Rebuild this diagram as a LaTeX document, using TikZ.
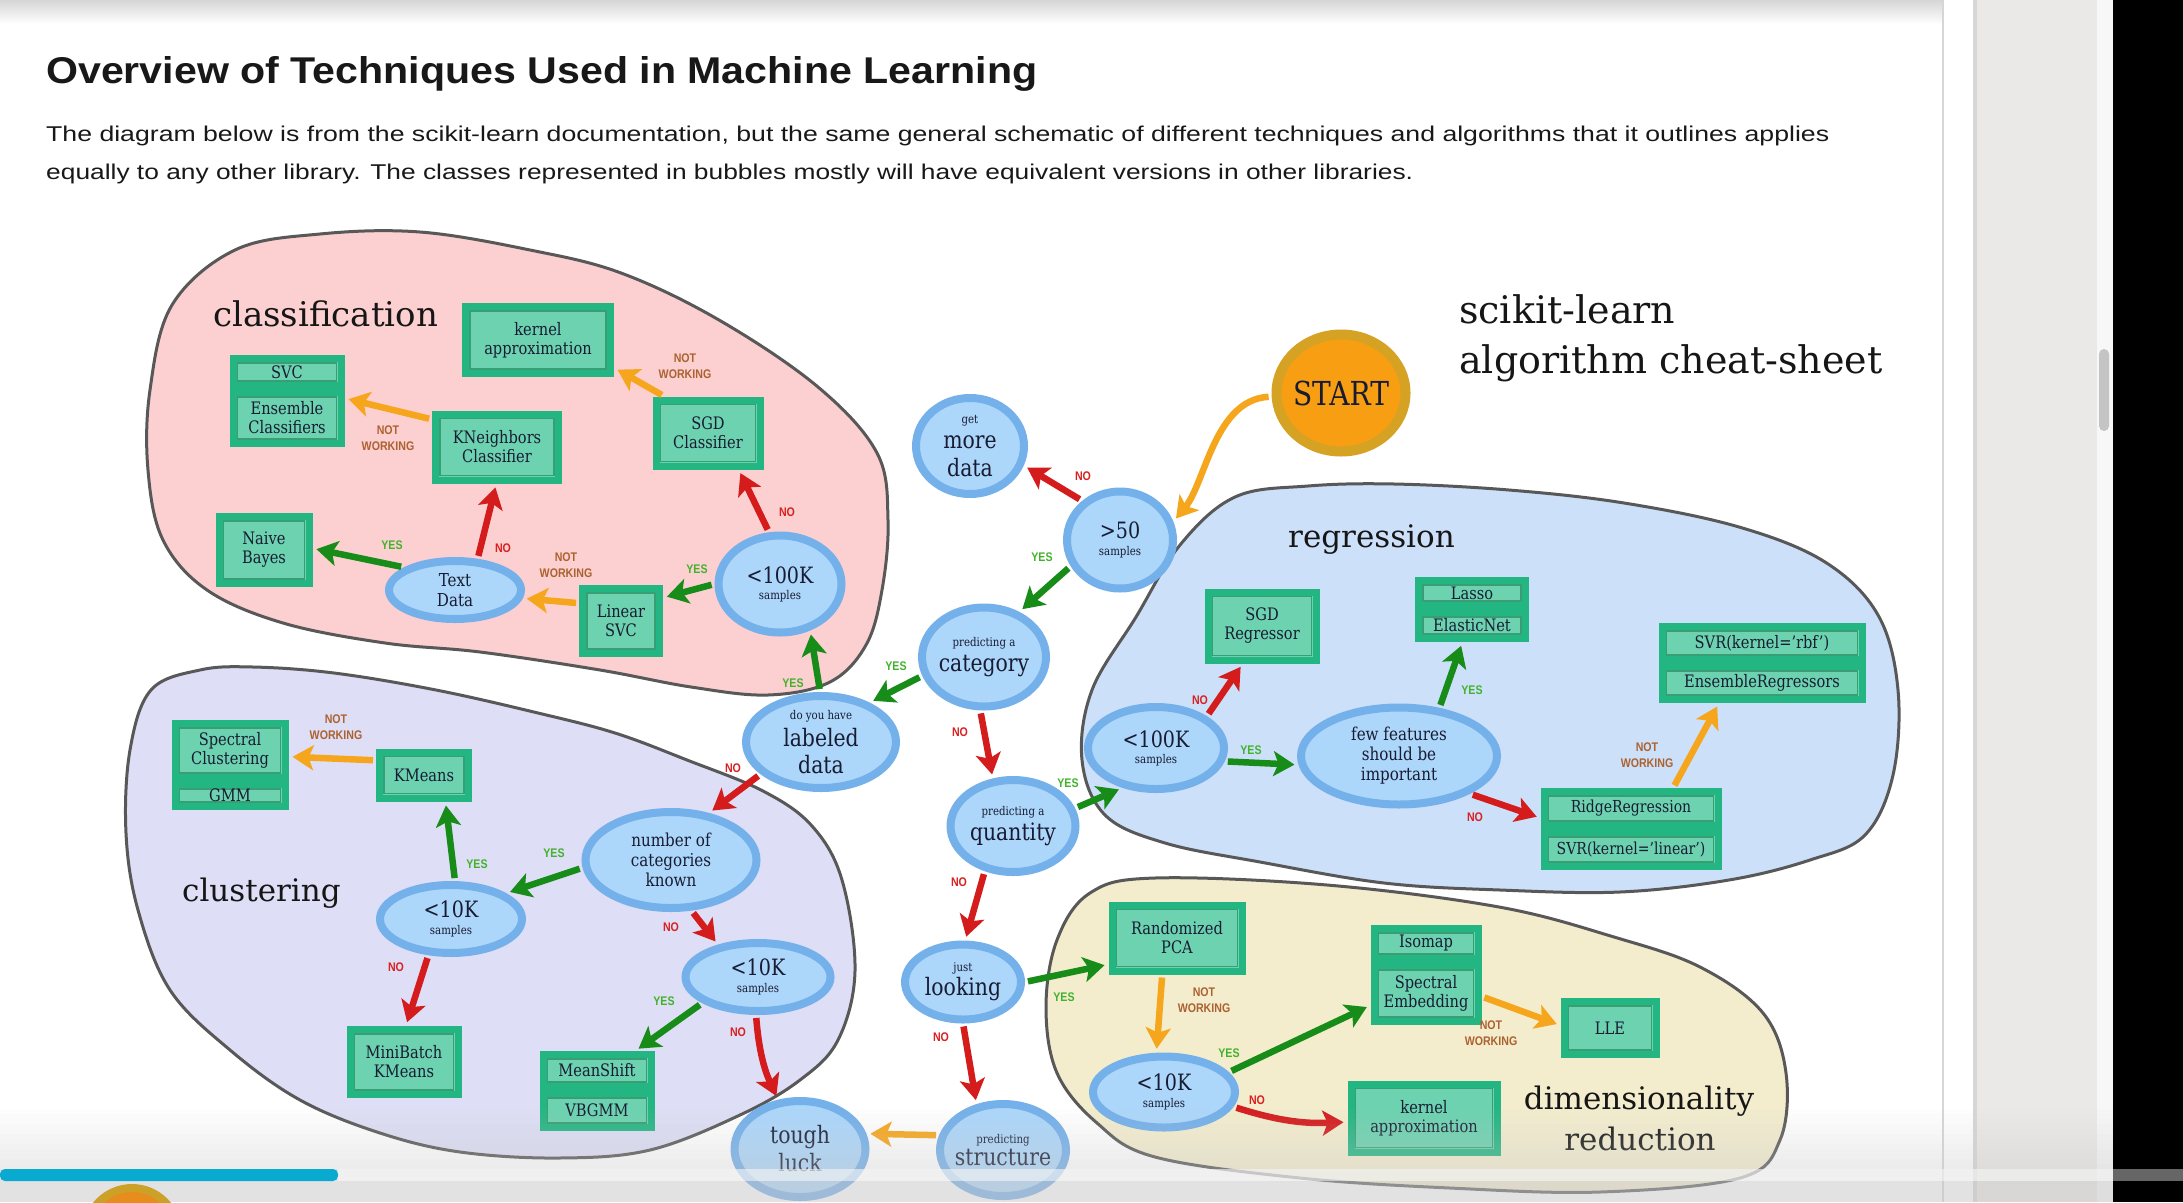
\documentclass[tikz,border=0pt]{standalone}
\usepackage{fontspec}
\usepackage{graphicx}
\setmainfont[FakeStretch=0.85]{DejaVu Serif}
\newfontfamily\titlefont{DejaVu Serif}
\newfontfamily\pagefont{Liberation Sans}
\newfontfamily\lblfont[FakeStretch=0.85]{Liberation Sans}
\usetikzlibrary{shapes.geometric,arrows.meta}

\definecolor{pinkbg}{RGB}{252,208,208}
\definecolor{lavbg}{RGB}{222,222,246}
\definecolor{bluebg}{RGB}{205,224,250}
\definecolor{beigebg}{RGB}{243,237,206}
\definecolor{blobline}{RGB}{88,88,88}
\definecolor{ellfill}{RGB}{172,214,250}
\definecolor{ellring}{RGB}{116,176,234}
\definecolor{boxfill}{RGB}{108,210,176}
\definecolor{boxline}{RGB}{36,182,130}
\definecolor{boxinner}{RGB}{58,158,116}
\definecolor{arrgreen}{RGB}{24,140,24}
\definecolor{arrred}{RGB}{212,28,28}
\definecolor{arrorange}{RGB}{246,166,28}
\definecolor{lblyes}{RGB}{66,178,44}
\definecolor{lblno}{RGB}{218,32,32}
\definecolor{lblnw}{RGB}{172,98,48}
\definecolor{startfill}{RGB}{248,158,18}
\definecolor{startring}{RGB}{214,162,36}
\definecolor{nodetxt}{RGB}{24,28,50}
\definecolor{regtxt}{RGB}{22,22,22}
\definecolor{pagetxt}{RGB}{24,24,24}
\definecolor{panelgray}{RGB}{234,233,231}
\definecolor{stripgray}{RGB}{247,247,247}
\definecolor{thumbgray}{RGB}{196,196,196}
\definecolor{progcyan}{RGB}{8,170,208}
\definecolor{avorange}{RGB}{232,140,30}
\definecolor{avgold}{RGB}{205,160,40}

\newcommand\myBig{\fontsize{24}{27}\selectfont}
\newcommand\myNum{\fontsize{22.5}{25}\selectfont}
\newcommand\mySmall{\fontsize{12}{13}\selectfont}
\newcommand\myBox{\fontsize{17.2}{19}\selectfont}
\newcommand\myMid{\fontsize{17.8}{20}\selectfont}

\tikzset{
  wh/.style 2 args={minimum width=#1pt, minimum height=#2pt},
  ell/.style={ellipse, draw=ellring, line width=8pt, fill=ellfill, inner sep=-16pt,
    align=center, text=nodetxt, font=\myBig},
  gbox/.style={rectangle, draw=boxline, line width=7pt, fill=boxfill, inner sep=0pt,
    align=center, text=nodetxt, font=\myBox,
    path picture={\draw[boxinner, line width=1.6pt]
      ([shift={(4.5pt,4.5pt)}]path picture bounding box.south west) rectangle
      ([shift={(-4.5pt,-4.5pt)}]path picture bounding box.north east);}},
  arrbase/.style={line width=6.5pt, -{Stealth[length=21pt,width=25pt,inset=5pt]},
    shorten >=4pt, shorten <=3pt},
  arrG/.style={arrbase, draw=arrgreen},
  arrR/.style={arrbase, draw=arrred},
  arrO/.style={arrbase, draw=arrorange},
  lbl/.style={inner sep=0pt, align=center, font={\lblfont\bfseries\fontsize{12.5}{16}\selectfont}},
  lyes/.style={lbl, text=lblyes},
  lno/.style={lbl, text=lblno},
  lnw/.style={lbl, text=lblnw},
  region/.style={inner sep=0pt, anchor=base west, text=regtxt, font=\titlefont\fontsize{31}{36}\selectfont},
  blob/.style={draw=blobline, line width=3pt},
}

\begin{document}
\begin{tikzpicture}[x=1pt,y=-1pt]
\useasboundingbox (0,0) rectangle (2183,1202);
\fill[white] (0,0) rectangle (2183,1202);
% browser chrome
\shade[top color=black!16, bottom color=white] (0,0) rectangle (1943,24);
\draw[black!16, line width=2pt] (1943,0) -- (1943,1202);
\fill[panelgray] (1973,0) rectangle (2097,1202);
\fill[black!16] (1973,0) rectangle (1977,1202);
\fill[stripgray] (2097,0) rectangle (2113,1202);
\fill[black] (2113,0) rectangle (2183,1202);
\fill[thumbgray, rounded corners=5pt] (2099,349) rectangle (2109,431);

% page text
\node[anchor=base west, inner sep=0pt, text=pagetxt] (ttl) at (46,83)
  {\resizebox{991pt}{27pt}{\pagefont\bfseries Overview of Techniques Used in Machine Learning}};
\node[anchor=base west, inner sep=0pt, text=pagetxt] (par1) at (46,141)
  {\resizebox{1783pt}{15.5pt}{\pagefont The diagram below is from the scikit-learn documentation, but the same general schematic of different techniques and algorithms that it outlines applies}};
\node[anchor=base west, inner sep=0pt, text=pagetxt] (par2) at (46,179)
  {\resizebox{1367pt}{15.5pt}{\pagefont equally to any other library. The classes represented in bubbles mostly will have equivalent versions in other libraries.}};

% region blobs
\draw[blob, fill=pinkbg] plot[smooth cycle, tension=0.6] coordinates {
  (150,390) (172,305) (235,250) (320,234) (420,232) (530,250) (621,273) (719,320)
  (818,387) (877,453) (888,520) (882,590) (866,645) (830,682) (768,695) (691,687)
  (600,670) (480,652) (385,643) (283,623) (207,590) (163,540) (148,470)};
\draw[blob, fill=lavbg] plot[smooth cycle, tension=0.6] coordinates {
  (126,833) (130,750) (151,690) (200,670) (253,667) (334,673) (436,690) (538,713)
  (615,733) (687,760) (763,791) (812,826) (842,880) (855,971) (838,1040) (800,1080)
  (740,1115) (650,1150) (559,1158) (460,1152) (380,1133) (300,1100) (230,1050)
  (170,990) (138,910)};
\draw[blob, fill=bluebg] plot[smooth cycle, tension=0.6] coordinates {
  (1092,690) (1136,617) (1180,545) (1235,497) (1308,486) (1394,484) (1509,490)
  (1624,503) (1739,527) (1825,562) (1878,615) (1898,690) (1893,775) (1865,835)
  (1810,860) (1729,880) (1620,892) (1500,890) (1384,883) (1260,862) (1165,843)
  (1105,815) (1082,760)};
\draw[blob, fill=beigebg] plot[smooth cycle, tension=0.6] coordinates {
  (1046,1007) (1057,940) (1090,893) (1155,878) (1327,885) (1499,907) (1614,937)
  (1700,967) (1763,1013) (1786,1073) (1780,1140) (1740,1178) (1600,1192)
  (1450,1188) (1300,1178) (1155,1157) (1097,1123) (1057,1073)};

% region titles
\node[region, font=\titlefont\fontsize{34}{40}\selectfont] (tcls) at (213,326) {classification};
\node[region] (tclu) at (182,901) {clustering};
\node[region] (treg) at (1288,547) {regression};
\node[region, anchor=base] (tdim1) at (1639,1109) {dimensionality};
\node[region, anchor=base] (tdim2) at (1640,1150) {reduction};
\node[region, font=\titlefont\fontsize{38}{44}\selectfont] (tsk1) at (1459,323) {scikit-learn};
\node[region, font=\titlefont\fontsize{38}{44}\selectfont] (tsk2) at (1459,373) {algorithm cheat-sheet};

% classification nodes
\node[gbox, wh={145}{67}] (kapC) at (538,340) {kernel\\approximation};
\node[gbox, wh={108}{27}] (svcC) at (287,372) {SVC};
\node[gbox, wh={108}{51}] (ensC) at (287,418) {Ensemble\\Classifiers};
\node[gbox, wh={123}{66}] (knc) at (497,447) {KNeighbors\\Classifier};
\node[gbox, wh={104}{66}] (sgdc) at (708,433) {SGD\\Classifier};
\node[gbox, wh={90}{67}] (naive) at (264,550) {Naive\\Bayes};
\node[ell, wh={132}{58}, font=\myMid] (textd) at (455,590) {Text\\Data};
\node[gbox, wh={77}{65}] (linsvc) at (621,621) {Linear\\SVC};
\node[ell, wh={123}{97}] (c100k) at (780,584) {{\myNum <100K}\\[-11pt]{\mySmall samples}};

% central nodes
\node[ell, wh={129}{117}, draw=startring, fill=startfill, line width=10pt,
  font=\fontsize{33}{36}\selectfont] (start) at (1341,393) {START};
\node[ell, wh={108}{96}] (getmore) at (970,446) {{\mySmall get}\\[-2pt]more\\[1pt]data};
\node[ell, wh={106}{97}] (gt50) at (1120,540) {{\myNum >50}\\[-10pt]{\mySmall samples}};
\node[ell, wh={124}{99}] (category) at (984,657) {{\mySmall predicting a}\\[-2pt]category};
\node[ell, wh={150}{92}] (labeled) at (821,742) {{\mySmall do you have}\\labeled\\data};
\node[ell, wh={125}{92}] (quantity) at (1013,826) {{\mySmall predicting a}\\[-2pt]quantity};
\node[ell, wh={116}{75}] (looking) at (963,982) {{\mySmall just}\\[-3pt]looking};
\node[ell, wh={126}{92}] (structure) at (1003,1150) {{\mySmall predicting}\\[-5pt]structure};
\node[ell, wh={131}{96}] (tough) at (800,1149) {tough\\[1pt]luck};

% clustering nodes
\node[gbox, wh={110}{54}] (specC) at (230,750.5) {Spectral\\Clustering};
\node[gbox, wh={110}{22}] (gmm) at (230,795.5) {GMM};
\node[gbox, wh={89}{46}] (kmeans) at (424,775) {KMeans};
\node[ell, wh={171}{96}, font=\myMid] (numcat) at (671,860) {number of\\categories\\known};
\node[ell, wh={142}{68}] (l10kL) at (451,919) {{\myNum <10K}\\[-10pt]{\mySmall samples}};
\node[ell, wh={145}{68}] (l10kR) at (758,977) {{\myNum <10K}\\[-10pt]{\mySmall samples}};
\node[gbox, wh={108}{65}] (minib) at (404,1062) {MiniBatch\\KMeans};
\node[gbox, wh={108}{32}] (meansh) at (597,1070.5) {MeanShift};
\node[gbox, wh={108}{34}] (vbgmm) at (597,1110.5) {VBGMM};

% regression nodes
\node[gbox, wh={108}{68}] (sgdr) at (1262,626) {SGD\\Regressor};
\node[gbox, wh={107}{25}] (lasso) at (1472,593) {Lasso};
\node[gbox, wh={107}{26}] (elastic) at (1472,625.5) {ElasticNet};
\node[gbox, wh={200}{33}] (svrrbf) at (1762,643) {SVR(kernel='rbf')};
\node[gbox, wh={200}{33}] (ensreg) at (1762,683) {EnsembleRegressors};
\node[ell, wh={136}{82}] (r100k) at (1156,748) {{\myNum <100K}\\[-11pt]{\mySmall samples}};
\node[ell, wh={196}{97}, font=\myMid] (few) at (1399,756) {few features\\should be\\important};
\node[gbox, wh={174}{34}, font=\fontsize{16.5}{18}\selectfont] (ridge) at (1631,808.5) {RidgeRegression};
\node[gbox, wh={174}{34}, font=\fontsize{16.5}{18}\selectfont] (svrlin) at (1631,849.5) {SVR(kernel='linear')};

% dimensionality reduction nodes
\node[gbox, wh={130}{66}] (pca) at (1177,938) {Randomized\\PCA};
\node[gbox, wh={104}{30}] (isomap) at (1426,943.5) {Isomap};
\node[gbox, wh={104}{56}] (specemb) at (1426,993.5) {Spectral\\Embedding};
\node[gbox, wh={92}{53}] (lle) at (1610,1028) {LLE};
\node[ell, wh={142}{71}] (l10kD) at (1164,1092) {{\myNum <10K}\\[-10pt]{\mySmall samples}};
\node[gbox, wh={146}{68}] (kapD) at (1424,1118) {kernel\\approximation};

% connectors: classification
\draw[arrO] (sgdc.140) -- (kapC.340);
\draw[arrO] (knc.157) -- (ensC.19);
\draw[arrR] (c100k.102) -- (sgdc.310);
\draw[arrG] (c100k.180) -- (linsvc.29);
\draw[arrO] (linsvc.157) -- (textd.353);
\draw[arrR] (textd.54) -- (knc.269);
\draw[arrG] (textd.156) -- (naive.2);
% central
\draw[arrO] (start.183) .. controls +(-57,3) and +(32,-39) .. (gt50.19);
\draw[arrR] (gt50.134) -- (getmore.340);
\draw[arrG] (gt50.208) -- (category.52);
\draw[arrG] (category.197) -- (labeled.39);
\draw[arrG] (labeled.91) -- (c100k.303);
\draw[arrR] (category.266) -- (quantity.113);
\draw[arrR] (labeled.208) -- (numcat.51);
\draw[arrG] (quantity.16) -- (r100k.230);
\draw[arrR] (quantity.238) -- (looking.87);
\draw[arrG] (looking.0) -- (pca.201);
\draw[arrR] (looking.270) -- (structure.120);
\draw[arrO] (structure.167) -- (tough.13);
% clustering
\draw[arrG] (numcat.185) -- (l10kL.25);
\draw[arrG] (l10kL.84) -- (kmeans.309);
\draw[arrO] (kmeans.163) -- (specC.354);
\draw[arrR] (l10kL.238) -- (minib.87);
\draw[arrR] (numcat.292) -- (l10kR.141);
\draw[arrG] (l10kR.205) -- (meansh.27);
\draw[arrR] (l10kR.267) to[bend right=10] (tough.114);
% regression
\draw[arrR] (r100k.32) -- (sgdr.243);
\draw[arrG] (r100k.349) -- (few.185);
\draw[arrG] (few.50) -- (elastic.240);
\draw[arrR] (few.332) -- (ridge.186);
\draw[arrO] (ridge.26) -- (ensreg.205);
% dimensionality reduction
\draw[arrO] (pca.248) -- (l10kD.101);
\draw[arrG] (l10kD.17) -- (specemb.192);
\draw[arrO] (specemb.357) -- (lle.177);
\draw[arrR] (l10kD.348) to[bend right=10] (kapD.183);

% connector labels
\node[lnw] (w1) at (685,366) {NOT\\WORKING};
\node[lnw] (w2) at (388,438) {NOT\\WORKING};
\node[lno] (n1) at (787,512) {NO};
\node[lyes] (y1) at (392,545) {YES};
\node[lno] (n2) at (503,548) {NO};
\node[lnw] (w3) at (566,565) {NOT\\WORKING};
\node[lyes] (y2) at (697,569) {YES};
\node[lyes] (y3) at (793,683) {YES};
\node[lno] (n3) at (1083,476) {NO};
\node[lyes] (y4) at (1042,557) {YES};
\node[lyes] (y5) at (896,666) {YES};
\node[lno] (n4) at (960,732) {NO};
\node[lno] (n5) at (733,768) {NO};
\node[lyes] (y6) at (1068,783) {YES};
\node[lno] (n6) at (959,882) {NO};
\node[lyes] (y7) at (1064,997) {YES};
\node[lno] (n7) at (941,1037) {NO};
\node[lnw] (w4) at (1204,1000) {NOT\\WORKING};
\node[lyes] (y8) at (1229,1053) {YES};
\node[lnw] (w5) at (1491,1033) {NOT\\WORKING};
\node[lno] (n8) at (1257,1100) {NO};
\node[lnw] (w6) at (336,727) {NOT\\WORKING};
\node[lyes] (y9) at (554,853) {YES};
\node[lyes] (y10) at (477,864) {YES};
\node[lno] (n9) at (671,927) {NO};
\node[lno] (n10) at (396,967) {NO};
\node[lyes] (y11) at (664,1001) {YES};
\node[lno] (n11) at (738,1032) {NO};
\node[lno] (n12) at (1200,700) {NO};
\node[lyes] (y12) at (1251,750) {YES};
\node[lyes] (y13) at (1472,690) {YES};
\node[lno] (n13) at (1475,817) {NO};
\node[lnw] (w7) at (1647,755) {NOT\\WORKING};

% video overlay at the bottom
\foreach \i in {0,...,12} {
  \pgfmathsetmacro\op{0.028*\i}
  \fill[black!22, fill opacity=\op] (0,{1104+5*\i}) rectangle (2113,{1109+5*\i});
}
\fill[black!22, fill opacity=0.5] (0,1169) rectangle (2113,1202);
\fill[white, fill opacity=0.5] (338,1169) rectangle (2113,1181);
\fill[progcyan, rounded corners=5pt] (0,1169) rectangle (338,1181);
\fill[black!60] (2113,1169) rectangle (2183,1181);
\filldraw[fill=avorange, draw=avgold, line width=8pt] (132,1234) circle[radius=46];
\end{tikzpicture}
\end{document}
